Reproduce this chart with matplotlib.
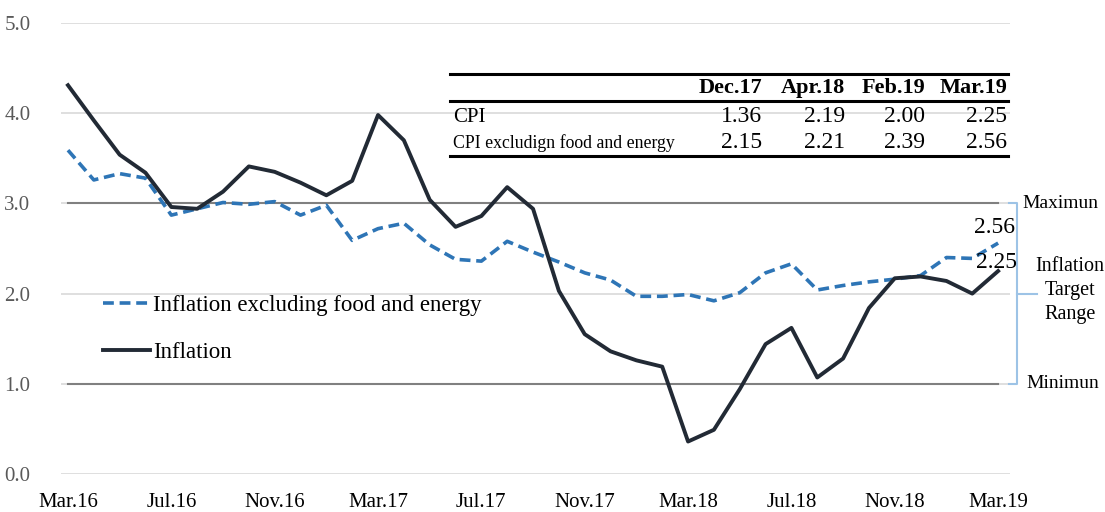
import matplotlib
matplotlib.use("Agg")
import matplotlib.pyplot as plt
import matplotlib.transforms as mtransforms
from matplotlib.lines import Line2D

plt.rcParams["font.family"] = ["Liberation Serif", "DejaVu Serif"]

# monthly data, Mar.16 .. Mar.19
inflation = [4.31, 3.92, 3.54, 3.34, 2.96, 2.94, 3.13, 3.41, 3.35, 3.23, 3.09, 3.25,
             3.98, 3.70, 3.04, 2.74, 2.86, 3.18, 2.94, 2.03, 1.55, 1.36, 1.26, 1.19,
             0.36, 0.49, 0.94, 1.44, 1.62, 1.07, 1.28, 1.84, 2.17, 2.19, 2.14, 2.00, 2.25]
core = [3.59, 3.26, 3.33, 3.28, 2.87, 2.94, 3.01, 2.99, 3.02, 2.87, 2.98, 2.59,
        2.72, 2.78, 2.54, 2.38, 2.36, 2.58, 2.46, 2.35, 2.23, 2.15, 1.97, 1.97,
        1.99, 1.92, 2.01, 2.23, 2.33, 2.04, 2.09, 2.13, 2.16, 2.20, 2.40, 2.39, 2.56]
tick_labels = ["Mar.16", "Jul.16", "Nov.16", "Mar.17", "Jul.17",
               "Nov.17", "Mar.18", "Jul.18", "Nov.18", "Mar.19"]
yticks = [0, 1, 2, 3, 4, 5]
target_min, target_max = 1.0, 3.0

table_cols = ["Dec.17", "Apr.18", "Feb.19", "Mar.19"]
table_rows = ["CPI", "CPI excludign food and energy"]
table_vals = [["1.36", "2.19", "2.00", "2.25"],
              ["2.15", "2.21", "2.39", "2.56"]]

W, H = 1105, 512
fig = plt.figure(figsize=(W / 100, H / 100), dpi=100)
ax = fig.add_axes([61 / W, 1 - 474 / H, (1010 - 61) / W, (474 - 23) / H])

x = list(range(len(inflation)))
ax.set_xlim(-0.27, 36.46)
ax.set_ylim(0, 5)

# grid
for y in yticks:
    ax.axhline(y, color="#d9d9d9", lw=1.2, zorder=0)
ax.plot([0, 36], [target_max, target_max], color="#808080", lw=1.5, zorder=1)
ax.plot([0, 36], [target_min, target_min], color="#808080", lw=1.5, zorder=1)

ax.plot(x, core, color="#2e75b6", lw=2.6, ls=(0, (3, 1.6)), zorder=3,
        label="Inflation excluding food and energy")
ax.plot(x, inflation, color="#222a35", lw=2.8, zorder=4, label="Inflation")

for s in ax.spines.values():
    s.set_visible(False)
ax.set_yticks(yticks)
ax.set_yticklabels([f"{v:.1f}" for v in yticks], fontsize=15, color="#595959")
ax.set_xticks(x[::4])
ax.set_xticklabels(tick_labels, fontsize=15, color="#000000")
ax.tick_params(length=0)
ax.tick_params(axis="y", pad=22)
ax.tick_params(axis="x", pad=14)

leg = ax.legend(loc="upper left", bbox_to_anchor=(103 / W, 1 - 295 / H),
                bbox_transform=fig.transFigure, frameon=False, borderpad=0, borderaxespad=0,
                fontsize=16.5, handlelength=2.05, handletextpad=0.13, labelspacing=1.15)

# end labels
ax.text(35.85, 2.73, f"{core[-1]:.2f}", fontsize=17, ha="center", va="center")
ax.text(35.95, 2.35, f"{inflation[-1]:.2f}", fontsize=17, ha="center", va="center")

# target range bracket
tr = mtransforms.blended_transform_factory(ax.transAxes, ax.transData)
bc = "#9dc3e6"
ax.add_line(Line2D([0.9985, 1.0075, 1.0075, 0.9985], [target_max, target_max, target_min, target_min],
                   transform=tr, color=bc, lw=1.5, clip_on=False))
mid = (target_max + target_min) / 2
ax.add_line(Line2D([1.0075, 1.028], [mid, mid], transform=tr, color=bc, lw=1.5, clip_on=False))
ax.text(1.0135, target_max, "Maximun", transform=tr, fontsize=14, va="center", ha="left")
ax.text(1.0175, target_min, "Minimun", transform=tr, fontsize=14, va="center", ha="left")
ax.text(1.063, mid + 0.03, "Inflation\nTarget\nRange", transform=tr, fontsize=14.5,
        va="center", ha="center", linespacing=1.35)

# summary table
tl, trx = 450 / W, 1008 / W
for yy in [74, 101, 156]:
    fig.add_artist(Line2D([tl, trx], [1 - yy / H, 1 - yy / H], color="black", lw=2.2))
col_right = [762, 845, 925, 1007]
for c, xr in zip(table_cols, col_right):
    fig.text(xr / W, 1 - 88 / H, c, fontsize=16, fontweight="bold", ha="right", va="center")
row_y = [117, 143]
row_fs = [15, 12.8]
for r, yy, fs, vals in zip(table_rows, row_y, row_fs, table_vals):
    fig.text(453 / W, 1 - yy / H, r, fontsize=fs, ha="left", va="center")
    for v, xr in zip(vals, col_right):
        fig.text(xr / W, 1 - yy / H, v, fontsize=17, ha="right", va="center")

fig.savefig("out.png", dpi=100)
